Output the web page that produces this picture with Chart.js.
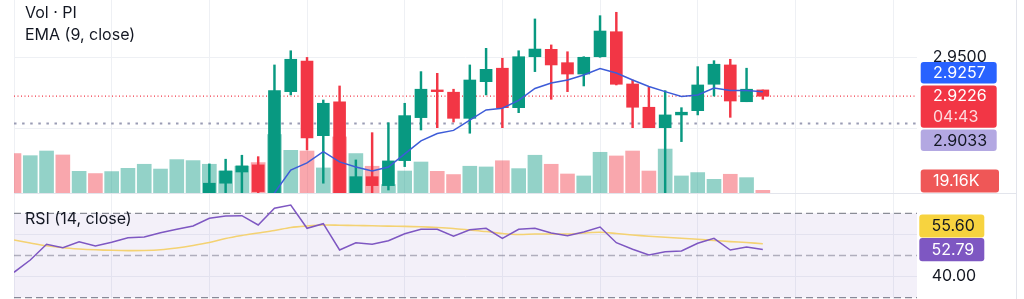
<!DOCTYPE html>
<html>
<head>
<meta charset="utf-8">
<script src="https://cdn.jsdelivr.net/npm/chart.js@4.4.1/dist/chart.umd.min.js"></script>
<style>
html,body{margin:0;padding:0;background:#ffffff;}
#wrap{position:relative;width:1024px;height:299px;overflow:hidden;background:#fff;font-family:Inter,"Noto Sans",sans-serif;}
#pricePane{position:absolute;left:0;top:0;width:1024px;height:193px;}
#rsiPane{position:absolute;left:0;top:194px;width:1024px;height:105px;}
.lg{position:absolute;left:25px;font-size:16px;line-height:20px;color:#131722;white-space:nowrap;}
.rule{position:absolute;background:#e3e5ec;}
</style>
</head>
<body>
<div id="wrap">
  <div id="pricePane"><canvas id="priceChart"></canvas></div>
  <div id="rsiPane"><canvas id="rsiChart"></canvas></div>
  <div class="rule" style="left:14px;top:193px;width:1003px;height:1px;"></div>
  <div class="rule" style="left:1016px;top:0;width:1px;height:299px;"></div>
  <div class="lg" style="top:2px;">Vol · PI</div>
  <div class="lg" style="top:24px;">EMA (9, close)</div>
  <div class="lg" style="top:208px;">RSI (14, close)</div>
</div>
<script>
// ---------------- DATA ----------------
const barIndex = Array.from({length: 47}, (_, i) => i);   // bar slots (time order)
const _ = null;
const open  = [_,_,_,_,_,_,_,_,_,_,_,_,
  2.852, 2.8613, 2.8692, 2.8742, 2.850, 2.9258, 2.9474, 2.8948, 2.9187, 2.852,
  2.8659, 2.8596, 2.8772, 2.9075, 2.9270, 2.9254, 2.9070, 2.9328, 2.9423, 2.9145,
  2.9504, 2.9556, 2.9462, 2.9382, 2.9504, 2.9680, 2.9312, 2.9148, 2.9004, 2.9094,
  2.9124, 2.9310, 2.9446, 2.9187, 2.9270];
const high  = [_,_,_,_,_,_,_,_,_,_,_,_,
  2.8749, 2.8782, 2.8810, 2.8800, 2.9446, 2.9546, 2.9499, 2.9199, 2.9298, 2.8777,
  2.8969, 2.9039, 2.9176, 2.9399, 2.9387, 2.9275, 2.9446, 2.9563, 2.9493, 2.9546,
  2.9770, 2.9587, 2.9539, 2.9504, 2.9793, 2.9817, 2.9340, 2.9289, 2.9265, 2.9145,
  2.9434, 2.9476, 2.9486, 2.9423, 2.9270];
const low   = [_,_,_,_,_,_,_,_,_,_,_,_,
  2.848, 2.849, 2.850, 2.851, 2.846, 2.9235, 2.8847, 2.8613, 2.848, 2.849,
  2.852, 2.8565, 2.8730, 2.8988, 2.9004, 2.9044, 2.8965, 2.9235, 2.9004, 2.9110,
  2.9399, 2.9204, 2.9258, 2.9298, 2.9500, 2.9305, 2.9004, 2.9004, 2.851, 2.8906,
  2.9094, 2.9227, 2.9077, 2.9187, 2.9204];
const close = [_,_,_,_,_,_,_,_,_,_,_,_,
  2.8613, 2.8699, 2.8735, 2.8554, 2.9265, 2.9486, 2.8932, 2.9176, 2.852, 2.8659,
  2.8596, 2.8770, 2.9089, 2.9275, 2.9258, 2.9070, 2.9340, 2.9415, 2.9145, 2.9504,
  2.9558, 2.9446, 2.9382, 2.9500, 2.9685, 2.9310, 2.9148, 2.9004, 2.9094, 2.9113,
  2.9305, 2.9451, 2.9192, 2.9275, 2.9226];
const ema9  = [_,_,_,_,_,_,_,_,_,_,_,_,_,_,_,
  2.8460, 2.8544, 2.8706, 2.8756, 2.8835, 2.8763, 2.8727, 2.8699, 2.8727, 2.8819,
  2.8911, 2.8963, 2.8985, 2.9058, 2.9129, 2.9141, 2.9196, 2.9280, 2.9319, 2.9340,
  2.9375, 2.9421, 2.9389, 2.9340, 2.9294, 2.9258, 2.9224, 2.9235, 2.9284, 2.9266,
  2.9266, 2.9257];
// volume in thousands
const volume = [280, 265, 298, 270, 154, 138, 152, 175, 204, 170,
  237, 230, 204, 156, 190, 216, 415, 303, 298, 178,
  398, 280, 190, 60, 156, 220, 154, 131, 190, 185,
  229, 173, 268, 204, 135, 121, 289, 263, 298, 156,
  312, 121, 145, 97, 133, 109, 19.16];
const earlyVolDir = ['d','u','u','d','u','d','u','u','u','u','u','u'];
const rsi14 = [42.04, 47.87, 55.31, 53.70, 56.54, 54.50, 56.26, 58.44, 58.77, 60.81,
  62.42, 63.98, 67.63, 68.72, 68.86, 64.45, 72.37, 73.93, 62.89, 65.07,
  52.61, 56.07, 55.31, 57.01, 60.33, 62.42, 62.42, 59.10, 62.23, 62.89,
  58.15, 62.42, 62.89, 60.66, 59.38, 61.14, 63.51, 56.07, 52.94, 50.24,
  51.80, 52.13, 55.78, 58.15, 52.61, 54.03, 52.79];
const rsiMA = [57.35, 55.92, 54.60, 53.65, 53.08, 52.70, 52.46, 52.32, 52.37, 52.70,
  53.55, 54.74, 56.16, 58.06, 59.48, 60.66, 61.85, 63.27, 63.98, 64.45,
  64.36, 64.22, 64.08, 63.93, 63.79, 63.60, 63.27, 62.80, 62.09, 61.37,
  60.43, 59.95, 60.19, 60.19, 60.19, 60.66, 61.00, 60.43, 59.72, 59.15,
  58.63, 58.15, 57.68, 57.11, 56.59, 56.16, 55.60];
const lastPrice = 2.9226;
const countdown = '04:43';
const avgPrice = 2.9033;
const lastVolLabel = '19.16K';
const priceTicks = [2.90, 2.95];
const rsiTicks = [40, 60];
const rsiBands = [70, 50, 30];
const timeGrid = [0, 6, 12, 18, 24, 30, 36, 42, 48, 54];
const xView = [0, 55.47];
const priceRange = [2.8544, 2.99035];
const volRange = [0, 1370];
const rsiRange = [29.384, 79.147];

// ---------------- STYLE ----------------
const UP = '#089981', DOWN = '#f23645';
const VOL_UP = 'rgba(8,153,129,0.44)', VOL_DOWN = 'rgba(242,54,69,0.44)';
const GRID = '#eef0f4';
const TXT = '#131722';
const FONT = 'Inter, "Noto Sans", sans-serif';
Chart.defaults.font.family = FONT;

const n = barIndex.length;
const lastIdx = n - 1;
const candleIdx = barIndex.filter(i => open[i] != null);
const wickData = candleIdx.map(i => ({x: i, y: [low[i], high[i]]}));
const bodyData = candleIdx.map(i => ({x: i, y: [open[i], close[i]]}));
const candleCol = candleIdx.map(i => close[i] >= open[i] ? UP : DOWN);
const volDir = barIndex.map(i => open[i] == null ? earlyVolDir[i] : (close[i] >= open[i] ? 'u' : 'd'));
const volData = barIndex.map(i => ({x: i, y: volume[i]}));
const volCol = volDir.map(d => d === 'u' ? VOL_UP : VOL_DOWN);
const emaData = barIndex.filter(i => ema9[i] != null).map(i => ({x: i, y: ema9[i]}));
const hLine = v => [{x: xView[0], y: v}, {x: xView[1], y: v}];

function rr(ctx, x, y, w, h, r) {
  ctx.beginPath();
  ctx.moveTo(x + r, y); ctx.lineTo(x + w - r, y); ctx.quadraticCurveTo(x + w, y, x + w, y + r);
  ctx.lineTo(x + w, y + h - r); ctx.quadraticCurveTo(x + w, y + h, x + w - r, y + h);
  ctx.lineTo(x + r, y + h); ctx.quadraticCurveTo(x, y + h, x, y + h - r);
  ctx.lineTo(x, y + r); ctx.quadraticCurveTo(x, y, x + r, y); ctx.closePath();
}
function tag(ctx, x, y, w, h, bg, lines) {
  ctx.save();
  ctx.fillStyle = bg; rr(ctx, x, y, w, h, 3); ctx.fill();
  ctx.font = '16px ' + FONT; ctx.textBaseline = 'middle'; ctx.textAlign = 'left';
  lines.forEach(l => { ctx.fillStyle = l[1]; ctx.fillText(l[0], x + 12.3, l[2]); });
  ctx.restore();
}
function xScale() {
  return {
    type: 'linear', min: xView[0], max: xView[1], offset: false,
    afterBuildTicks: s => { s.ticks = timeGrid.map(v => ({value: v})); },
    afterFit: s => { s.height = 0; s.paddingLeft = 0; s.paddingRight = 0; },
    ticks: {display: false},
    grid: {color: GRID, drawTicks: false, lineWidth: 1, offset: false},
    border: {display: false}
  };
}
function yFit(s) { s.width = 107; s.paddingTop = 0; s.paddingBottom = 0; }
function nearMarker(chart, axisId, v, markers, dist) {
  const s = chart.scales[axisId];
  const p = s.getPixelForValue(v);
  return markers.some(m => Math.abs(s.getPixelForValue(m) - p) < dist);
}

// ---------------- PRICE PANE ----------------
const priceTags = {
  id: 'priceTags',
  afterDraw(chart) {
    const ctx = chart.ctx, a = chart.chartArea, ys = chart.scales.y, yv = chart.scales.yVol;
    const left = a.right + 3.7, w = 76, h1 = 21.6, h2 = 42.3, gap = 1.8;
    const yL = ys.getPixelForValue(lastPrice);
    const redTop = yL - h1 / 2;
    let blueTop = ys.getPixelForValue(ema9[lastIdx]) - h1 / 2;
    blueTop = Math.min(blueTop, redTop - gap - h1);
    let purTop = ys.getPixelForValue(avgPrice) - h1 / 2;
    purTop = Math.max(purTop, redTop + h2 + gap);
    tag(ctx, left, blueTop, w, h1, '#2962ff', [[ema9[lastIdx].toFixed(4), '#ffffff', blueTop + h1 / 2 + 0.5]]);
    tag(ctx, left, redTop, w, h2, DOWN, [[lastPrice.toFixed(4), '#ffffff', yL + 0.5], [countdown, 'rgba(255,255,255,0.82)', redTop + h1 + 10.5]]);
    tag(ctx, left, purTop, w, h1, '#b3a8e2', [[avgPrice.toFixed(4), TXT, purTop + h1 / 2 + 0.5]]);
    const vh = 23;
    let vTop = yv.getPixelForValue(volume[lastIdx]) - vh / 2;
    vTop = Math.min(vTop, a.bottom - vh - 0.5);
    tag(ctx, left, vTop, 78.3, vh, '#ef5757', [[lastVolLabel, '#ffffff', vTop + vh / 2 + 0.5]]);
  }
};

new Chart(document.getElementById('priceChart'), {
  data: {
    datasets: [
      {type: 'line', data: emaData, yAxisID: 'y', borderColor: '#3d5cd8', borderWidth: 1.5, pointRadius: 0, tension: 0, order: 0},
      {type: 'bar', data: bodyData, yAxisID: 'y', backgroundColor: candleCol, barThickness: 12, grouped: false, borderWidth: 0, order: 1},
      {type: 'bar', data: wickData, yAxisID: 'y', backgroundColor: candleCol, barThickness: 1.8, grouped: false, borderWidth: 0, order: 2},
      {type: 'line', data: hLine(lastPrice), yAxisID: 'y', borderColor: DOWN, borderWidth: 1.2, borderDash: [1, 2.5], pointRadius: 0, order: 3},
      {type: 'line', data: hLine(avgPrice), yAxisID: 'y', borderColor: '#9a9cb4', borderWidth: 2, borderDash: [2.5, 5.6], pointRadius: 0, order: 3},
      {type: 'bar', data: volData, yAxisID: 'yVol', backgroundColor: volCol, barThickness: 14, grouped: false, borderWidth: 0, order: 4}
    ]
  },
  options: {
    responsive: true, maintainAspectRatio: false, animation: false, events: [],
    layout: {padding: {left: 14, right: 0, top: 0, bottom: 0}},
    plugins: {legend: {display: false}, tooltip: {enabled: false}},
    scales: {
      x: xScale(),
      y: {
        type: 'linear', position: 'right', min: priceRange[0], max: priceRange[1],
        afterBuildTicks: s => { s.ticks = priceTicks.map(v => ({value: v})); },
        afterFit: yFit,
        grid: {color: GRID, drawTicks: false},
        border: {display: false},
        ticks: {
          padding: 15.7, font: {size: 16, family: FONT},
          color: c => nearMarker(c.chart, 'y', c.tick.value, [lastPrice, avgPrice], 14) ? 'rgba(0,0,0,0)' : TXT,
          callback: v => Number(v).toFixed(4)
        }
      },
      yVol: {type: 'linear', display: false, min: volRange[0], max: volRange[1]}
    }
  },
  plugins: [priceTags]
});

// ---------------- RSI PANE ----------------
const rsiTags = {
  id: 'rsiTags',
  afterDraw(chart) {
    const ctx = chart.ctx, a = chart.chartArea, ys = chart.scales.y;
    const left = a.right + 2.3, w = 65, h = 23.2, gap = 0.4;
    const rTop = ys.getPixelForValue(rsi14[lastIdx]) - h / 2;
    let mTop = ys.getPixelForValue(rsiMA[lastIdx]) - h / 2;
    if (mTop + h > rTop - gap) mTop = rTop - gap - h;
    tag(ctx, left, mTop, w, h, '#f7d33f', [[rsiMA[lastIdx].toFixed(2), TXT, mTop + h / 2 + 0.5]]);
    tag(ctx, left, rTop, w, h, '#7e57c2', [[rsi14[lastIdx].toFixed(2), '#ffffff', rTop + h / 2 + 0.5]]);
  }
};

new Chart(document.getElementById('rsiChart'), {
  data: {
    datasets: [
      {type: 'line', data: barIndex.map(i => ({x: i, y: rsi14[i]})), borderColor: '#7e57c2', borderWidth: 1.5, pointRadius: 0, tension: 0, order: 0},
      {type: 'line', data: barIndex.map(i => ({x: i, y: rsiMA[i]})), borderColor: '#f4d272', borderWidth: 1.6, pointRadius: 0, tension: 0.3, order: 1},
      {type: 'line', data: hLine(rsiBands[0]), borderColor: '#8a8d96', borderWidth: 1.3, borderDash: [7, 4], pointRadius: 0,
        fill: {value: rsiBands[2]}, backgroundColor: 'rgba(126,87,194,0.09)', order: 2},
      {type: 'line', data: hLine(rsiBands[1]), borderColor: 'rgba(120,123,134,0.55)', borderWidth: 1.3, borderDash: [7, 4], pointRadius: 0, order: 2},
      {type: 'line', data: hLine(rsiBands[2]), borderColor: '#8a8d96', borderWidth: 1.3, borderDash: [7, 4], pointRadius: 0, order: 2}
    ]
  },
  options: {
    responsive: true, maintainAspectRatio: false, animation: false, events: [],
    layout: {padding: {left: 14, right: 0, top: 0, bottom: 0}},
    plugins: {legend: {display: false}, tooltip: {enabled: false}},
    scales: {
      x: xScale(),
      y: {
        type: 'linear', position: 'right', min: rsiRange[0], max: rsiRange[1],
        afterBuildTicks: s => { s.ticks = rsiTicks.map(v => ({value: v})); },
        afterFit: yFit,
        grid: {color: GRID, drawTicks: false},
        border: {display: false},
        ticks: {
          padding: 14.7, font: {size: 16, family: FONT},
          color: c => nearMarker(c.chart, 'y', c.tick.value, [rsi14[lastIdx], rsiMA[lastIdx]], 14) ? 'rgba(0,0,0,0)' : TXT,
          callback: v => Number(v).toFixed(2)
        }
      }
    }
  },
  plugins: [rsiTags]
});
</script>
</body>
</html>
